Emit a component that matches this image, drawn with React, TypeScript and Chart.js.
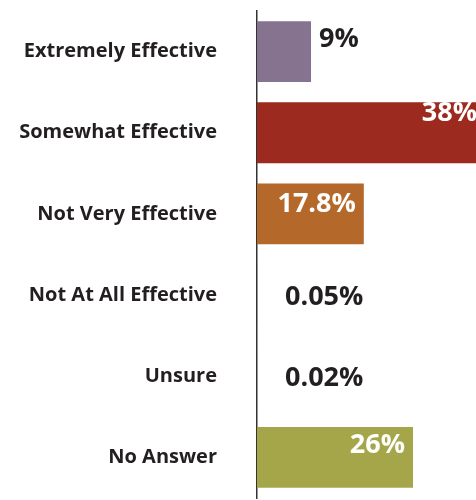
import React, { useEffect, useRef } from "react";
import { Chart, registerables } from "chart.js";

Chart.register(...registerables);

const categories = [
  "Extremely Effective",
  "Somewhat Effective",
  "Not Very Effective",
  "Not At All Effective",
  "Unsure",
  "No Answer",
];
const values = [9, 38, 17.8, 0.05, 0.02, 26];
const valueLabels = ["9%", "38%", "17.8%", "0.05%", "0.02%", "26%"];
const barColors = ["#85738f", "#9c2a1f", "#b4692b", "#888888", "#888888", "#a5a64a"];

const valueLabelPlugin = {
  id: "valueLabels",
  afterDatasetsDraw(chart: any, _args: any, opts: any) {
    const { ctx, scales } = chart;
    const xs = scales.x;
    const ys = scales.y;
    const dy: number[] = opts.dy || [];
    ctx.save();
    ctx.font = "bold 27px 'Open Sans'";
    ctx.textBaseline = "middle";
    values.forEach((v, i) => {
      const yc = ys.getPixelForValue(i) + (dy[i] || 0);
      const xEnd = xs.getPixelForValue(v);
      const x0 = xs.getPixelForValue(0);
      if (v < 1) {
        ctx.fillStyle = "#231f20";
        ctx.textAlign = "left";
        ctx.fillText(valueLabels[i], x0 + 28, yc);
      } else if (v < 12) {
        ctx.fillStyle = "#231f20";
        ctx.textAlign = "left";
        ctx.fillText(valueLabels[i], xEnd + 8, yc);
      } else {
        ctx.fillStyle = "#ffffff";
        ctx.textAlign = "right";
        ctx.fillText(valueLabels[i], xEnd - 8, yc);
      }
    });
    ctx.restore();
  },
};

export default function App() {
  const ref = useRef<HTMLCanvasElement>(null);
  useEffect(() => {
    if (!ref.current) return;
    const chart = new Chart(ref.current, {
      type: "bar",
      data: {
        labels: categories,
        datasets: [
          {
            data: values,
            backgroundColor: barColors,
            barPercentage: 0.75,
            categoryPercentage: 1,
          },
        ],
      },
      options: {
        indexAxis: "y",
        animation: false,
        responsive: true,
        maintainAspectRatio: false,
        layout: { padding: { top: 11, bottom: 2, left: 0, right: 0 } },
        plugins: {
          legend: { display: false },
          tooltip: { enabled: false },
          valueLabels: { dy: [-12, -19, -10, 2, 2, -12] },
        } as any,
        scales: {
          x: {
            display: false,
            min: 0,
            max: 36.5,
          },
          y: {
            afterFit: (s: any) => {
              s.width = 257;
              s.paddingTop = 0;
              s.paddingBottom = 0;
            },
            grid: { display: false, drawTicks: false },
            border: { display: true, color: "#333333", width: 1.5 },
            ticks: {
              padding: 40,
              color: "#231f20",
              font: { family: "'Open Sans'", size: 20, weight: "bold" },
            },
          },
        },
      },
      plugins: [valueLabelPlugin],
    });
    return () => chart.destroy();
  }, []);
  return (
    <div style={{ position: "absolute", left: 0, top: 0, width: 476, height: 500, background: "#fff" }}>
      <canvas ref={ref} />
    </div>
  );
}
